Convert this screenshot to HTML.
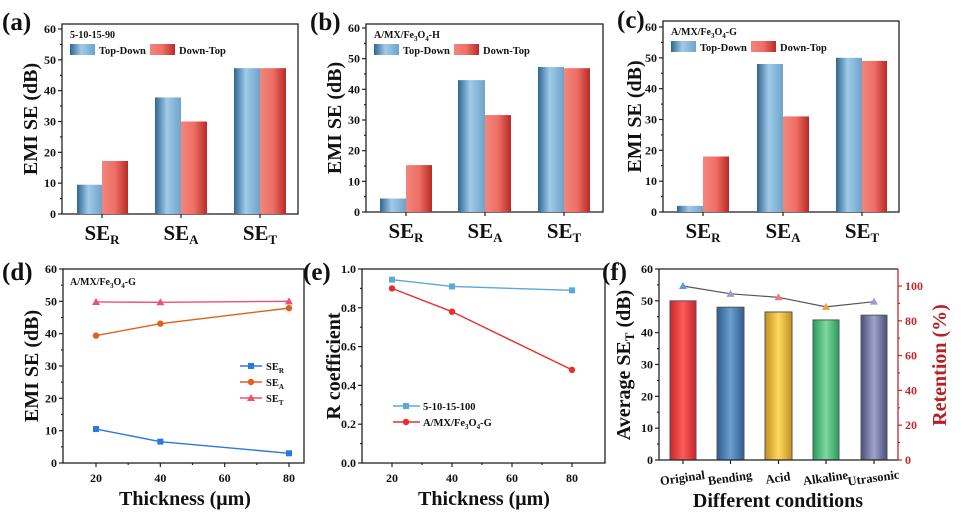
<!DOCTYPE html>
<html><head><meta charset="utf-8"><style>
html,body{margin:0;padding:0;background:#fff;width:965px;height:516px;overflow:hidden}
svg{display:block;font-family:"Liberation Serif",serif;font-weight:bold}
</style></head><body>
<svg id="s" width="965" height="516" viewBox="0 0 965 516" xmlns="http://www.w3.org/2000/svg">
<defs>
<linearGradient id="gb" x1="0" x2="1"><stop offset="0" stop-color="#2f6690"/><stop offset="0.45" stop-color="#9fcbe8"/><stop offset="1" stop-color="#6fa3c9"/></linearGradient>
<linearGradient id="gr" x1="0" x2="1"><stop offset="0" stop-color="#f2867c"/><stop offset="0.5" stop-color="#ee6f66"/><stop offset="1" stop-color="#b82a25"/></linearGradient>
<linearGradient id="f1" x1="0" x2="1"><stop offset="0" stop-color="#c8262c"/><stop offset="0.5" stop-color="#ff5a5a"/><stop offset="1" stop-color="#c8262c"/></linearGradient>
<linearGradient id="f2" x1="0" x2="1"><stop offset="0" stop-color="#2f5e90"/><stop offset="0.5" stop-color="#6a9fd0"/><stop offset="1" stop-color="#2f5e90"/></linearGradient>
<linearGradient id="f3" x1="0" x2="1"><stop offset="0" stop-color="#c09020"/><stop offset="0.5" stop-color="#ffd860"/><stop offset="1" stop-color="#c09020"/></linearGradient>
<linearGradient id="f4" x1="0" x2="1"><stop offset="0" stop-color="#2a9a5a"/><stop offset="0.5" stop-color="#7ed8a0"/><stop offset="1" stop-color="#2a9a5a"/></linearGradient>
<linearGradient id="f5" x1="0" x2="1"><stop offset="0" stop-color="#4a4f78"/><stop offset="0.5" stop-color="#a0a4cc"/><stop offset="1" stop-color="#4a4f78"/></linearGradient>
</defs>
</svg>
<script>
var s=document.getElementById('s'),h='';
function T(x,y,t,o){o=o||{};h+='<text x="'+x+'" y="'+y+'" font-size="'+(o.fs||12)+'" text-anchor="'+(o.a||'middle')+'" fill="'+(o.c||'#111')+'"'+(o.tr?' transform="'+o.tr+'"':'')+'>'+t+'</text>';}
function L(x1,y1,x2,y2,c,w){h+='<line x1="'+x1+'" y1="'+y1+'" x2="'+x2+'" y2="'+y2+'" stroke="'+(c||'#222')+'" stroke-width="'+(w||1.2)+'"/>';}
function R(x,y,w,hh,f,st){h+='<rect x="'+x+'" y="'+y+'" width="'+w+'" height="'+hh+'" fill="'+f+'"'+(st?' stroke="'+st+'" stroke-width="1"':'')+'/>';}
function box(l,t,r,b){h+='<rect x="'+l+'" y="'+t+'" width="'+(r-l)+'" height="'+(b-t)+'" fill="none" stroke="#222" stroke-width="1.3"/>';}
function yaxis(l,y0,y1,vals,fmt,c){var n=vals.length;for(var i=0;i<n;i++){var y=y0+(y1-y0)*i/(n-1);L(l-4,y,l,y,c);T(l-6,y+4,fmt(vals[i]),{a:'end',c:c});if(i<n-1){var ym=y+(y1-y0)/(n-1)/2;L(l-2,ym,l,ym,c);}}}
function barPanel(P){var l=P.l,t=P.t,r=P.r,b=P.b,y60=P.y60;var sc=(b-y60)/60;
 box(l,t,r,b);yaxis(l,b,y60,[0,10,20,30,40,50,60],function(v){return v});
 P.bars.forEach(function(g,i){R(g[0],b-g[2]*sc,g[1]-g[0],g[2]*sc,'url(#gb)');R(g[1],b-g[3]*sc,g[4]-g[1],g[3]*sc,'url(#gr)');L(g[1],b,g[1],b+4);
  var sub=['R','A','T'][i];h+='<text x="'+g[1]+'" y="'+(b+26)+'" font-size="21" text-anchor="middle" fill="#111">SE<tspan font-size="13" dy="4">'+sub+'</tspan></text>';});
 T(P.lx,P.ly,P.letter,{fs:25,a:'start'});
 T(l+8,t+14,P.title,{fs:10,a:'start'});
 R(l+8,t+20,25,11,'url(#gb)');T(l+37,t+30,'Top-Down',{fs:10.5,a:'start'});
 R(l+88,t+20,25,11,'url(#gr)');T(l+117,t+30,'Down-Top',{fs:10.5,a:'start'});
 T(0,0,'EMI SE (dB)',{fs:20,tr:'translate('+P.yx+','+((t+b)/2)+') rotate(-90)'});}
barPanel({l:62,t:24,r:298,b:214,y60:29,letter:'(a)',lx:2,ly:30,yx:37,title:'5-10-15-90',bars:[[77,102,9.5,17.2,128],[155,181,37.8,30,207],[234,260,47.3,47.3,286]]});
barPanel({l:366,t:24,r:603,b:212,y60:28,letter:'(b)',lx:310,ly:30,yx:341,title:'A/MX/Fe<tspan font-size="7" dy="3">3</tspan><tspan dy="-3">O</tspan><tspan font-size="7" dy="3">4</tspan><tspan dy="-3">-H</tspan>',bars:[[380,406,4.4,15.3,432],[458,485,43,31.6,511],[538,564,47.3,46.9,590]]});
barPanel({l:663,t:21,r:899,b:212,y60:27,letter:'(c)',lx:617,ly:28,yx:641,title:'A/MX/Fe<tspan font-size="7" dy="3">3</tspan><tspan dy="-3">O</tspan><tspan font-size="7" dy="3">4</tspan><tspan dy="-3">-G</tspan>',bars:[[677,703,2,18,729],[757,783,48,31,809],[836,862,50,49,887]]});
function xaxis(b,xs,labels){xs.forEach(function(x,i){L(x,b,x,b+4);T(x,b+19,labels[i]);});}
function poly(pts,c,mk){h+='<polyline points="'+pts.map(function(p){return p.join(',')}).join(' ')+'" fill="none" stroke="'+c+'" stroke-width="1.4"/>';pts.forEach(function(p){marker(p[0],p[1],c,mk)});}
function marker(x,y,c,mk){if(mk=='s')R(x-3,y-3,6,6,c);else if(mk=='c')h+='<circle cx="'+x+'" cy="'+y+'" r="3.2" fill="'+c+'"/>';else h+='<polygon points="'+x+','+(y-4)+' '+(x-4)+','+(y+3)+' '+(x+4)+','+(y+3)+'" fill="'+c+'"/>';}
(function(){var l=63,t=269,r=304,b=463;box(l,t,r,b);yaxis(l,b,t,[0,10,20,30,40,50,60],function(v){return v});
var X=function(v){return 96+(v-20)*(193/60)},Y=function(v){return b-v*(b-t)/60};
xaxis(b,[X(20),X(40),X(60),X(80)],[20,40,60,80]);[30,50,70].forEach(function(v){L(X(v),b,X(v),b+2)});
poly([[X(20),Y(49.8)],[X(40),Y(49.7)],[X(80),Y(50)]],'#f0506e','t');
poly([[X(20),Y(39.4)],[X(40),Y(43.1)],[X(80),Y(47.9)]],'#e0601c','c');
poly([[X(20),Y(10.5)],[X(40),Y(6.6)],[X(80),Y(3.0)]],'#2a78e0','s');
[['#2a78e0','s','R',366],['#e0601c','c','A',382],['#f0506e','t','T',398]].forEach(function(e){L(240,e[3],262,e[3],e[0],1.4);marker(251,e[3],e[0],e[1]);h+='<text x="266" y="'+(e[3]+4)+'" font-size="10.5" fill="#111">SE<tspan font-size="7" dy="3">'+e[2]+'</tspan></text>';});
T(70,285,'A/MX/Fe<tspan font-size="7" dy="3">3</tspan><tspan dy="-3">O</tspan><tspan font-size="7" dy="3">4</tspan><tspan dy="-3">-G</tspan>',{fs:10,a:'start'});
T(2,280,'(d)',{fs:25,a:'start'});T(185,505,'Thickness (μm)',{fs:20});T(0,0,'EMI SE (dB)',{fs:20,tr:'translate(38,366) rotate(-90)'});})();
(function(){var l=362,t=269,r=605,b=463;box(l,t,r,b);yaxis(l,b,t,[0,0.2,0.4,0.6,0.8,1.0],function(v){return v.toFixed(1)});
var X=function(v){return 392+(v-20)*3},Y=function(v){return b-v*(b-t)};
xaxis(b,[X(20),X(40),X(60),X(80)],[20,40,60,80]);[30,50,70].forEach(function(v){L(X(v),b,X(v),b+2)});
poly([[X(20),Y(.945)],[X(40),Y(.91)],[X(80),Y(.89)]],'#5aa8dc','s');
poly([[X(20),Y(.90)],[X(40),Y(.78)],[X(80),Y(.48)]],'#e8302a','c');
L(393,406,420,406,'#5aa8dc',1.4);marker(406,406,'#5aa8dc','s');T(423,410,'5-10-15-100',{fs:10.5,a:'start'});
L(393,422,420,422,'#e8302a',1.4);marker(406,422,'#e8302a','c');T(423,426,'A/MX/Fe<tspan font-size="7" dy="3">3</tspan><tspan dy="-3">O</tspan><tspan font-size="7" dy="3">4</tspan><tspan dy="-3">-G</tspan>',{fs:10.5,a:'start'});
T(303,280,'(e)',{fs:25,a:'start'});T(484,505,'Thickness (μm)',{fs:20});T(0,0,'R coefficient',{fs:20,tr:'translate(340,366) rotate(-90)'});})();
(function(){var l=659,t=269,r=898,b=460;
var sc=(b-t)/60;var bars=[[670,696,50,'f1'],[717,744,48,'f2'],[765,792,46.5,'f3'],[813,839,44,'f4'],[861,887,45.5,'f5']];
bars.forEach(function(g){R(g[0],b-g[2]*sc,g[1]-g[0],g[2]*sc,'url(#'+g[3]+')','#555');});
L(l,t,r,t,'#222',1.3);L(l,b,r,b,'#222',1.3);L(l,t,l,b,'#222',1.3);L(r,t,r,b,'#c0282c',1.3);
yaxis(l,b,t,[0,10,20,30,40,50,60],function(v){return v});
for(var i=0;i<=5;i++){var y=b-i*20*1.74;L(r,y,r+4,y,'#c0282c');T(r+7,y+4,i*20,{a:'start',c:'#c0282c'});var ym=y-17.4;if(ym>t)L(r,ym,r+2,ym,'#c0282c');}
var ret=[100,95.5,93.5,88,91],cols=['#5a9ae0','#9a9ad8','#f07a7a','#f0a040','#9a9ad8'];
var pts=bars.map(function(g,i){return[(g[0]+g[1])/2,b-ret[i]*1.74]});
h+='<polyline points="'+pts.map(function(p){return p.join(',')}).join(' ')+'" fill="none" stroke="#555" stroke-width="1.2"/>';
pts.forEach(function(p,i){marker(p[0],p[1],cols[i],'t');L(p[0],b,p[0],b+4);});
var nm=['Original','Bending','Acid','Alkaline','Utrasonic'];
pts.forEach(function(p,i){T(0,0,nm[i],{fs:12.5,tr:'translate('+p[0]+','+(b+22)+') rotate(-8)'});});
T(602,280,'(f)',{fs:25,a:'start'});T(778,507,'Different conditions',{fs:20});
h+='<text transform="translate(630,365) rotate(-90)" font-size="20" text-anchor="middle" fill="#111">Average SE<tspan font-size="13" dy="4">T</tspan><tspan dy="-4"> (dB)</tspan></text>';
T(0,0,'Retention (%)',{fs:20,c:'#b82024',tr:'translate(946,365) rotate(-90)'});})();
s.insertAdjacentHTML('beforeend',h);
</script>
</body></html>
